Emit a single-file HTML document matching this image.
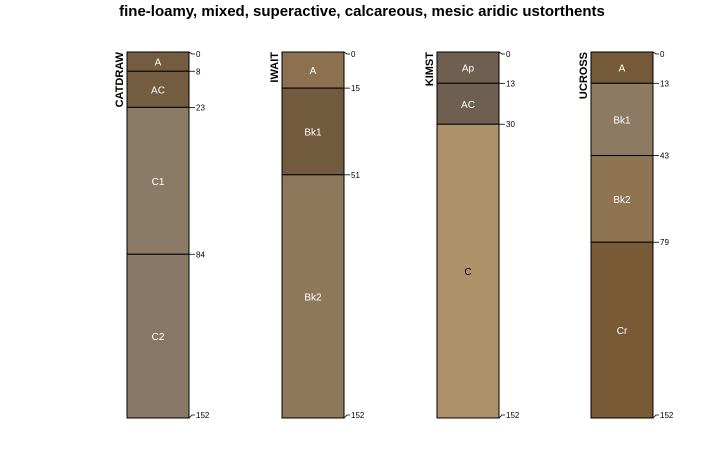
<!DOCTYPE html>
<html><head><meta charset="utf-8"><style>
body{margin:0;background:#fff}
svg{display:block;font-family:"Liberation Sans",sans-serif}
</style></head><body>
<svg id="chart" width="725" height="450">
<text x="362" y="16" text-anchor="middle" font-size="15" font-weight="bold" fill="#000">fine-loamy, mixed, superactive, calcareous, mesic aridic ustorthents</text>
</svg>
<script>
const profileNames = ["CATDRAW","IWAIT","KIMST","UCROSS"];
const horizonNames = [["A","AC","C1","C2"],["A","Bk1","Bk2"],["Ap","AC","C"],["A","Bk1","Bk2","Cr"]];
const horizonTops = [[0,8,23,84],[0,15,51],[0,13,30],[0,13,43,79]];
const horizonBottoms = [[8,23,84,152],[15,51,152],[13,30,152],[13,43,79,152]];
const horizonColors = [["#745c40","#745c40","#8b7a66","#8a7866"],["#8c7150","#725a3e","#8e785c"],["#6e5f50","#6e5f50","#ad9168"],["#755a3a","#8d7a62","#8f7452","#785a35"]];
const maxDepth = 152;
const svg = document.getElementById('chart');
const NS = "http://www.w3.org/2000/svg";
const top0 = 52, bot0 = 418, w = 62;
const xLeft = [127,282,437,591];
const yScale = d => top0 + d/maxDepth*(bot0-top0);
function mk(tag, attrs){const e=document.createElementNS(NS,tag);for(const k in attrs)e.setAttribute(k,attrs[k]);svg.appendChild(e);return e;}
profileNames.forEach((name,p)=>{
  const x = xLeft[p];
  const lab = mk('text',{x:x-4,y:top0,transform:`rotate(-90 ${x-4} ${top0})`,'text-anchor':'end','font-size':11,'font-weight':'bold',fill:'#000'});
  lab.textContent = name;
  
  
  horizonNames[p].forEach((h,i)=>{
    const y1 = yScale(horizonTops[p][i]), y2 = yScale(horizonBottoms[p][i]);
    const r = mk('rect',{x:x,y:y1,width:w,height:y2-y1,fill:horizonColors[p][i],stroke:'#000','stroke-width':1});
    
    
    const t = mk('text',{x:x+w/2,y:(y1+y2)/2+4,'text-anchor':'middle','font-size':10,fill:p===2&&i===2?'#000':'#fff'});
    t.textContent = h;
    
    
  });
  const depths = horizonTops[p].concat([maxDepth]);
  depths.forEach((d,i)=>{
    const y = yScale(d);
    const yl = i===0 ? y+2 : (i===depths.length-1 ? y-3 : y);
    const tk = mk('polyline',{points:`${x+w},${y} ${x+w+3},${yl} ${x+w+6},${yl}`,fill:'none',stroke:'#000','stroke-width':0.8});
    
    
    const tl = mk('text',{x:x+w+7,y:yl+3,'font-size':8,fill:'#000'});
    tl.textContent = d;
    
    
  });
});
</script>
</body></html>
